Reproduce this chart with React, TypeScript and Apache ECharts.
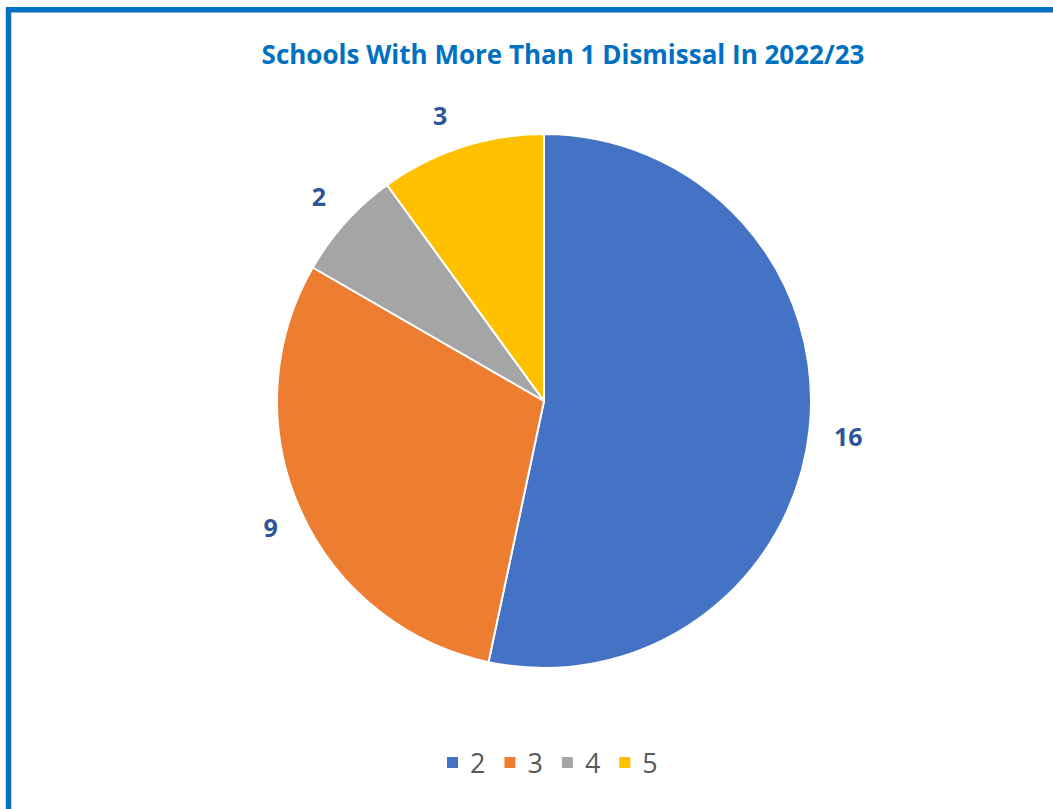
import React, { useEffect, useRef } from "react";
import * as echarts from "echarts";

const titleText = "Schools With More Than 1 Dismissal In 2022/23";
const categories = ["2", "3", "4", "5"];
const values = [16, 9, 2, 3];
const colors = ["#4472C4", "#ED7D31", "#A5A5A5", "#FFC000"];

const FONT = "'Open Sans', sans-serif";
// small per-label nudges (style only) to mimic Excel's label placement
const labelNudges = [
  [-1, 3],
  [7, 1],
  [3, 0],
  [-9, 6],
];

export default function App() {
  const ref = useRef<HTMLDivElement>(null);
  useEffect(() => {
    if (!ref.current) return;
    const chart = echarts.init(ref.current, null, { renderer: "svg" });
    const mainData = categories.map((c, i) => ({
      name: c,
      value: values[i],
      itemStyle: { color: colors[i] },
    }));
    const labelData = categories.map((c, i) => ({
      name: "lbl" + c,
      value: values[i],
    }));
    chart.setOption({
      animation: false,
      backgroundColor: "#ffffff",
      title: {
        text: titleText,
        left: 558,
        top: 36,
        textAlign: "center",
        textStyle: {
          fontFamily: FONT,
          fontSize: 26,
          fontWeight: "bold",
          color: "#0070C0",
        },
      },
      legend: {
        data: categories.map((c, i) => ({ name: c, itemStyle: { color: colors[i] } })),
        left: 440,
        top: 744,
        icon: "rect",
        itemWidth: 13,
        itemHeight: 13,
        itemGap: 17,
        textStyle: { fontFamily: FONT, fontSize: 27, color: "#595959", padding: [0, 0, 0, 6] },
      },
      graphic: [
        {
          type: "rect",
          shape: { x: 8.5, y: 9.8, width: 1200, height: 1000 },
          style: { fill: "none", stroke: "#0070C0", lineWidth: 5.4 },
          silent: true,
        },
      ],
      series: [
        {
          type: "pie",
          center: [544, 401],
          radius: 267,
          startAngle: 90,
          clockwise: true,
          data: mainData,
          label: { show: false },
          labelLine: { show: false },
          itemStyle: { borderColor: "#ffffff", borderWidth: 2 },
          emphasis: { disabled: true },
        },
        {
          type: "pie",
          center: [544, 401],
          radius: 608,
          startAngle: 90,
          clockwise: true,
          silent: true,
          data: labelData,
          itemStyle: { color: "rgba(0,0,0,0)", borderWidth: 0 },
          label: {
            show: true,
            position: "inside",
            formatter: "{c}",
            fontFamily: FONT,
            fontSize: 25,
            fontWeight: "bold",
            color: "#2F5597",
          },
          labelLayout: (params: any) => {
            const n = labelNudges[params.dataIndex] || [0, 0];
            return { dx: n[0], dy: n[1] };
          },
          labelLine: { show: false },
          emphasis: { disabled: true },
        },
      ],
    });
    return () => chart.dispose();
  }, []);
  return (
    <div
      ref={ref}
      style={{ position: "absolute", left: 0, top: 0, width: 1053, height: 809 }}
    />
  );
}
